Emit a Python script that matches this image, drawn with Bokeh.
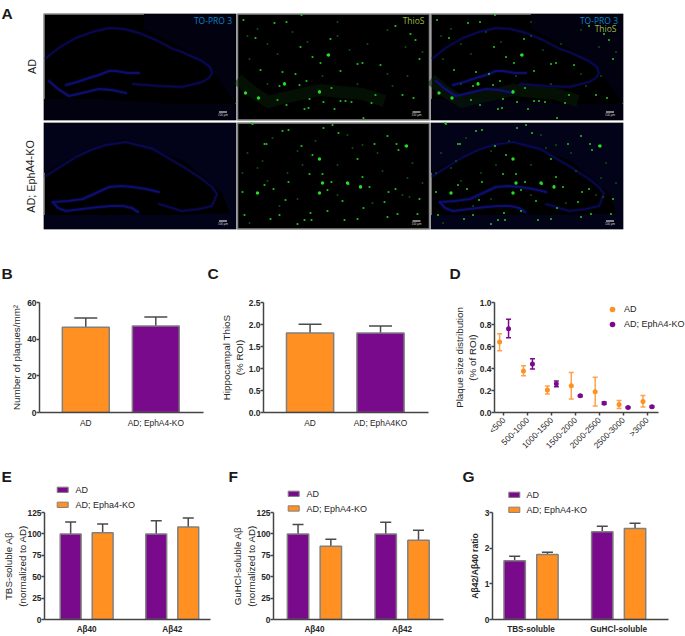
from bokeh.plotting import figure
from bokeh.models import (ColumnDataSource, Range1d, FixedTicker, Whisker, TeeHead, Legend, LegendItem,
                          Column, Row)
from bokeh.core.properties import value
from bokeh.embed import file_html
from bokeh.resources import INLINE

ORANGE = "#FF9021"
PURPLE = "#7A0A8C"
INK = "#262626"
FONT = "Liberation Sans"

# ---------- data ----------
groups_bc = ["AD", "AD; EphA4-KO"]
groups_c = ["AD", "AD; EphA4KO"]
plaques_mean = [46.5, 47.2]
plaques_top = [51.6, 52.1]
thios_mean = [1.806, 1.806]
thios_top = [2.005, 1.966]

size_bins = ["<500", "500-1000", "1000-1500", "1500-2000", "2000-2500", "2500-3000", ">3000"]
dist_ad = [0.64, 0.378, 0.204, 0.244, 0.189, 0.073, 0.10]
dist_ad_hi = [0.716, 0.424, 0.241, 0.363, 0.32, 0.11, 0.155]
dist_ad_lo = [0.561, 0.335, 0.168, 0.122, 0.058, 0.037, 0.049]
dist_ko = [0.762, 0.442, 0.259, 0.152, 0.085, 0.046, 0.052]
dist_ko_hi = [0.848, 0.488, 0.287, 0.16, 0.095, 0.052, 0.058]
dist_ko_lo = [0.68, 0.396, 0.235, 0.145, 0.075, 0.04, 0.046]

ab_species = ["A\u03b240", "A\u03b242"]
tbs_ad, tbs_ad_top = [100, 100], [114, 115.5]
tbs_ko, tbs_ko_top = [101.4, 108.2], [111.7, 118.5]
gu_ad, gu_ad_top = [100, 100], [111, 113.5]
gu_ko, gu_ko_top = [85.6, 92.5], [93.7, 104.4]
fractions = ["TBS-soluble", "GuHCl-soluble"]
ratio_ad, ratio_ad_top = [1.646, 2.46], [1.775, 2.617]
ratio_ko, ratio_ko_top = [1.82, 2.553], [1.885, 2.70]

# panel A: structures (pixels inside one 192 x 106 image)
ad_arc_x = [2, 16, 32, 48, 65, 80, 95, 112, 129, 138, 158, 166, 168, 165, 158, 138, 115, 89]
ad_arc_y = [44, 33, 24, 18, 14, 15, 19, 26, 35, 38, 47, 53, 59, 64, 68, 73, 72, 70]
ad_dgu_x = [22, 33, 45, 55, 65, 72, 84, 95]
ad_dgu_y = [71, 68, 64, 61, 57, 57, 59, 59]
ad_dgl_x = [5, 14, 25, 38, 55, 68, 82]
ad_dgl_y = [67, 75, 82, 79, 75, 76, 79]
ko_arc_x = [2, 16, 32, 47, 62, 82, 109, 138, 158, 168, 173, 168, 155, 138, 115]
ko_arc_y = [53, 44, 34, 27, 22, 19, 26, 43, 56, 64, 71, 83, 86, 88, 81]
ko_dgu_x = [9, 24, 39, 52, 65, 77, 89, 102, 115]
ko_dgu_y = [79, 78, 76, 70, 64, 63, 64, 66, 69]
ko_dgl_x = [9, 14, 22, 38, 55, 68, 79, 88, 94]
ko_dgl_y = [79, 85, 88, 86, 84, 83, 83, 85, 89]
ad_band_x = [0, 15, 31, 42, 82, 125, 147]
ad_band_y = [65, 78, 88, 85, 76, 80, 87]
ad_haze = [([100, 192, 192, 170, 140, 100], [0, 0, 90, 60, 35, 15]),
           ([0, 60, 130, 192, 192, 0], [85, 85, 90, 90, 106, 106])]
ko_haze = [([0, 192, 192, 178, 140, 80, 40, 0], [0, 0, 106, 70, 38, 16, 28, 50]),
           ([0, 120, 192, 192, 0], [92, 92, 90, 106, 106])]
ad_large_x = [8, 21, 47, 82, 91]
ad_large_y = [79, 84, 70, 78, 41]
ko_large_x = [20, 82, 82, 85, 110, 123, 169]
ko_large_y = [70, 36, 70, 60, 60, 64, 23]
ad_bright_x = [6, 37, 49, 64, 158, 173, 18, 93, 178, 63, 90, 83, 75, 120, 125, 143, 182, 23, 45, 58, 103, 47, 69, 62, 42,
               94, 82, 40, 49, 72, 86, 67, 71, 97, 103, 108, 114, 138, 134, 165, 176, 126]
ad_bright_y = [6, 9, 8, 1, 12, 20, 24, 25, 26, 33, 41, 49, 43, 50, 49, 51, 45, 56, 58, 60, 57, 69, 67, 71, 72,
               74, 77, 86, 91, 85, 88, 95, 94, 95, 87, 87, 88, 81, 89, 81, 84, 104]
ad_faint_x = [10, 20, 30, 55, 100, 112, 150, 168, 12, 40, 70, 100, 130, 150, 170, 185, 30, 85, 120, 155]
ad_faint_y = [22, 15, 30, 18, 8, 36, 16, 33, 45, 40, 28, 22, 30, 60, 62, 38, 70, 62, 70, 72]
ko_bright_x = [15, 14, 95, 45, 51, 86, 101, 150, 159, 137, 168, 161, 27, 29, 64, 120, 75, 85, 72, 51, 111, 94, 123,
               132, 125, 90, 36, 5, 27, 48, 73, 90, 42, 33, 7, 67, 74, 147, 151, 158, 182, 180, 160, 126, 105, 107, 150, 120, 60]
ko_bright_y = [1, 0, 2, 8, 7, 5, 10, 13, 21, 21, 23, 27, 21, 21, 23, 36, 32, 51, 51, 59, 61, 59, 63,
               64, 54, 67, 66, 69, 62, 77, 90, 88, 92, 96, 92, 97, 97, 79, 69, 66, 76, 91, 91, 85, 78, 97, 94, 96, 101]
ko_faint_x = [10, 25, 35, 60, 78, 110, 125, 140, 175, 5, 20, 50, 65, 100, 115, 145, 170, 185, 30, 60, 100, 135, 165, 12, 42, 172]
ko_faint_y = [30, 38, 15, 28, 18, 12, 22, 30, 40, 50, 45, 50, 42, 42, 25, 48, 55, 60, 58, 76, 72, 80, 72, 100, 83, 74]

# ---------- helpers ----------
def style_axes(p, yticks, label_standoff):
    for ax in (p.xaxis[0], p.yaxis[0]):
        ax.axis_line_color = "#444444"
        ax.axis_line_width = 1.5
        ax.major_tick_line_color = "#444444"
        ax.major_tick_line_width = 1.5
        ax.major_tick_in = 0
        ax.minor_tick_line_color = None
        ax.major_label_text_font = FONT
        ax.major_label_text_font_size = "8.4px"
        ax.major_label_text_color = INK
        ax.axis_label_text_font = FONT
        ax.axis_label_text_font_size = "9.8px"
        ax.axis_label_text_font_style = "normal"
        ax.axis_label_text_color = INK
    p.yaxis[0].major_label_text_font_style = "bold"
    p.yaxis[0].major_tick_out = 3
    p.yaxis[0].major_label_standoff = 0
    p.yaxis[0].axis_label_standoff = label_standoff
    p.yaxis[0].ticker = FixedTicker(ticks=yticks)
    p.grid.visible = False
    p.outline_line_color = None


def make_fig(w, h, l, r, t, b, xr, yr, see_through=False):
    p = figure(width=w, height=h, x_range=Range1d(*xr), y_range=Range1d(*yr), toolbar_location=None,
               output_backend="svg", min_border_left=l, min_border_right=r, min_border_top=t,
               min_border_bottom=b)
    if see_through:
        p.background_fill_alpha = 0
        p.border_fill_alpha = 0
    return p


def canvas(w, h, y0):
    p = figure(width=w, height=h, x_range=Range1d(0, w), y_range=Range1d(y0 + h, y0), toolbar_location=None,
               output_backend="svg", min_border=0, background_fill_color="white", border_fill_color="white")
    p.axis.visible = False
    p.grid.visible = False
    p.outline_line_color = None
    return p


def letters(p, txt, xs, y):
    p.text(x=xs, y=[y] * len(xs), text=txt, text_font=value(FONT), text_font_size="15.5px",
           text_font_style="bold", text_color="#1a1a1a", text_baseline="alphabetic")


def bars(p, x, tops, caps, color, width, cap):
    src = ColumnDataSource(dict(x=x, top=tops, cap=caps))
    r = p.vbar(x="x", top="top", width=width, bottom=0, source=src, fill_color=color,
               line_color="#808080", line_width=1.5)
    p.add_layout(Whisker(base="x", upper="cap", lower="top", source=src, lower_head=None,
                         upper_head=TeeHead(size=cap, line_color="#4a4a4a", line_width=1.5),
                         line_color="#4a4a4a", line_width=1.5))
    return r


def swatch_key(p, labels, colors, x, ys, tx):
    p.rect(x=[x + 5.5] * 2, y=ys, width=[11] * 2, height=[5.3] * 2, fill_color=colors,
           line_color="#808080", line_width=1)
    p.text(x=[tx] * 2, y=[v + 0.5 for v in ys], text=labels, text_font=value(FONT), text_font_size="9px",
           text_color=INK, text_baseline="middle")


def xlabels(p, labels, bold=False):
    ax = p.xaxis[0]
    ax.ticker = FixedTicker(ticks=list(range(len(labels))))
    ax.major_label_overrides = {i: t for i, t in enumerate(labels)}
    ax.major_tick_out = 0
    ax.major_label_standoff = 5
    if bold:
        ax.major_label_text_font_style = "bold"
        ax.major_label_text_font_size = "8.2px"

# ---------- panel A ----------
pa = canvas(685, 290, 0)
col_x = [43.5, 237, 430.5]
row_y = [13.5, 122.5]
rows = [
    dict(arc=(ad_arc_x, ad_arc_y), dgu=(ad_dgu_x, ad_dgu_y), dgl=(ad_dgl_x, ad_dgl_y), haze=ad_haze,
         bx=ad_bright_x, by=ad_bright_y, fx=ad_faint_x, fy=ad_faint_y, lx=ad_large_x, ly=ad_large_y, hc="#01010f"),
    dict(arc=(ko_arc_x, ko_arc_y), dgu=(ko_dgu_x, ko_dgu_y), dgl=(ko_dgl_x, ko_dgl_y), haze=ko_haze,
         bx=ko_bright_x, by=ko_bright_y, fx=ko_faint_x, fy=ko_faint_y, lx=ko_large_x, ly=ko_large_y, hc="#020218"),
]
for ri, row in enumerate(rows):
    oy = row_y[ri]
    for ci, ox in enumerate(col_x):
        pa.rect(x=[ox + 96], y=[oy + 53], width=[192], height=[106], fill_color="#000000",
                line_color="#8a8a8a", line_width=1.5)
        if ci != 1:
            for hx, hy in row["haze"]:
                pa.patch([ox + v for v in hx], [oy + v for v in hy], fill_color=row["hc"], line_color=None)
        if ci != 0 and ri == 0:
            pa.line([ox + v for v in ad_band_x], [oy + v for v in ad_band_y], line_color="#0a200a",
                    line_width=12, line_alpha=0.5, line_join="round")
        if ci != 1:
            for key in ("arc", "dgu", "dgl"):
                xs, ys = row[key]
                wide = 3.0 if key != "arc" else 2.2
                core = "#10107c" if key != "arc" else "#0b0b62"
                pa.line([ox + v for v in xs], [oy + v for v in ys], line_color="#08084c", line_width=wide + 1.2,
                        line_alpha=0.45, line_join="round", line_cap="round")
                pa.line([ox + v for v in xs], [oy + v for v in ys], line_color=core, line_width=wide - 0.8,
                        line_alpha=0.85, line_join="round", line_cap="round")
        if ci != 0:
            pa.scatter([ox + v for v in row["fx"]], [oy + v for v in row["fy"]], marker="square", size=1.6,
                       fill_color="#0f640f", line_color=None)
            pa.scatter([ox + v for v in row["bx"]], [oy + v for v in row["by"]], marker="circle", size=2.2,
                       fill_color="#1cc41c", line_color=None)
            pa.scatter([ox + v for v in row["lx"]], [oy + v for v in row["ly"]], marker="circle", size=3.4,
                       fill_color="#22e022", line_color=None)
        pa.rect(x=[ox + 179], y=[oy + 98], width=[8], height=[1], fill_color="white", line_color=None)
        pa.text(x=[ox + 179], y=[oy + 101], text=["100 \u00b5m"], text_font=value(FONT), text_font_size="3px",
                text_color="#d0d0d0", text_align="center", text_baseline="middle")
pa.text(x=[231.5, 617.5], y=[20, 20], text=["TO-PRO 3", "TO-PRO 3"], text_font=value("Open Sans"),
        text_font_size="8.5px", text_color="#0a86c8", text_align="right", text_baseline="middle")
pa.text(x=[424, 616], y=[20, 28], text=["ThioS", "ThioS"], text_font=value("Open Sans"),
        text_font_size="8.5px", text_color="#9dbb3c", text_align="right", text_baseline="middle")
pa.text(x=[31, 30], y=[66, 176], text=["AD", "AD; EphA4-KO"], angle=1.5708, text_font=value(FONT),
        text_font_size="10.8px", text_color="#222222", text_align="center", text_baseline="middle")
letters(pa, ["A"], [1], 13)
letters(pa, ["B", "C", "D"], [1, 207, 449], 273)

# ---------- panel B ----------
xr_b = (-0.661, 1.681)
pb = make_fig(205, 170, 39, 2, 12, 48, xr_b, (0, 60))
bars(pb, [0], plaques_mean[:1], plaques_top[:1], ORANGE, 0.67, 23)
bars(pb, [1], plaques_mean[1:], plaques_top[1:], PURPLE, 0.67, 23)
style_axes(pb, [0, 20, 40, 60], 2)
xlabels(pb, groups_bc)
pb.yaxis[0].axis_label = "Number of plaques/mm\u00b2"

# ---------- panel C ----------
pc = make_fig(225, 170, 58, 2, 12, 48, xr_b, (0, 2.5))
bars(pc, [0], thios_mean[:1], thios_top[:1], ORANGE, 0.67, 23)
bars(pc, [1], thios_mean[1:], thios_top[1:], PURPLE, 0.67, 23)
style_axes(pc, [0, 0.5, 1, 1.5, 2, 2.5], 1)
pc.yaxis[0].major_label_overrides = {0: "0.0", 0.5: "0.5", 1: "1.0", 1.5: "1.5", 2: "2.0", 2.5: "2.5"}
xlabels(pc, groups_c)
pc.yaxis[0].axis_label = "Hippocampal ThioS\n(% ROI)"

# ---------- panel D ----------
pd_ = make_fig(255, 170, 64, 0, 12, 48, (-0.393, 7.599), (0, 1.0))
idx = list(range(len(size_bins)))
ad_x = [i - 0.18 for i in idx]
ko_x = [i + 0.195 for i in idx]
sa = ColumnDataSource(dict(x=ad_x, y=dist_ad, hi=dist_ad_hi, lo=dist_ad_lo))
sk = ColumnDataSource(dict(x=ko_x, y=dist_ko, hi=dist_ko_hi, lo=dist_ko_lo))
for src, col in ((sa, "#FFA24D"), (sk, PURPLE)):
    pd_.add_layout(Whisker(base="x", upper="hi", lower="lo", source=src, line_color=col, line_width=1.5,
                           upper_head=TeeHead(size=5, line_color=col, line_width=1.5),
                           lower_head=TeeHead(size=5, line_color=col, line_width=1.5)))
ra = pd_.scatter("x", "y", source=sa, size=5, marker="circle", fill_color=ORANGE, line_color=None)
rk = pd_.scatter("x", "y", source=sk, size=5, marker="circle", fill_color=PURPLE, line_color=None)
style_axes(pd_, [0, 0.2, 0.4, 0.6, 0.8, 1.0], -1)
pd_.yaxis[0].major_label_overrides = {0: "0.0", 0.2: "0.2", 0.4: "0.4", 0.6: "0.6", 0.8: "0.8", 1: "1.0"}
xlabels(pd_, size_bins)
pd_.xaxis[0].bounds = (-0.393, 6.456)
pd_.xaxis[0].major_tick_out = 3
pd_.xaxis[0].major_label_orientation = 0.785
pd_.xaxis[0].major_label_standoff = 3
pd_.yaxis[0].axis_label = "Plaque size distribution\n(% of ROI)"
pd_.add_layout(Legend(items=[LegendItem(label=value("AD"), renderers=[ra]),
                             LegendItem(label=value("AD; EphA4-KO"), renderers=[rk])],
                      location=(111, 81), background_fill_alpha=0, border_line_alpha=0, padding=0, margin=0,
                      spacing=1, glyph_width=14, glyph_height=14, label_standoff=5, label_height=10,
                      label_text_font=FONT, label_text_font_size="9px", label_text_color=INK))

# ---------- letters and keys above E, F, G (drawn behind the see-through row below) ----------
strip = canvas(685, 56, 460)
letters(strip, ["E", "F", "G"], [1, 228, 462], 476)
swatch_key(strip, ["AD", "AD; Epha4-KO"], [PURPLE, ORANGE], 56.7, [489.3, 504.3], 75)
swatch_key(strip, ["AD", "AD; EphA4-KO"], [PURPLE, ORANGE], 287.7, [493.3, 508], 306)
swatch_key(strip, ["AD", "AD; EphA4-KO"], [PURPLE, ORANGE], 508.3, [494.3, 509.3], 526)

# ---------- panel E ----------
pe = make_fig(212, 136, 41, 2, 11, 16, (-0.4926, 1.447), (0, 125), True)
bars(pe, [i - 0.187 for i in range(2)], tbs_ad, tbs_ad_top, PURPLE, 0.244, 11)
bars(pe, [i + 0.187 for i in range(2)], tbs_ko, tbs_ko_top, ORANGE, 0.244, 11)
style_axes(pe, [0, 25, 50, 75, 100, 125], -3)
xlabels(pe, ab_species, True)
pe.yaxis[0].axis_label = "TBS-soluble A\u03b2\n(normalized to AD)"

# ---------- panel F ----------
pf = make_fig(233, 136, 61, 2, 12, 15, (-0.467, 1.472), (0, 125), True)
bars(pf, [i - 0.187 for i in range(2)], gu_ad, gu_ad_top, PURPLE, 0.244, 11)
bars(pf, [i + 0.187 for i in range(2)], gu_ko, gu_ko_top, ORANGE, 0.244, 11)
style_axes(pf, [0, 25, 50, 75, 100, 125], -3)
xlabels(pf, ab_species, True)
pf.yaxis[0].axis_label = "GuHCl-soluble A\u03b2\n(normalized to AD)"

# ---------- panel G ----------
pg = make_fig(240, 136, 47, 17, 11, 16, (-0.44, 1.569), (0, 3), True)
bars(pg, [i - 0.187 for i in range(2)], ratio_ad, ratio_ad_top, PURPLE, 0.244, 11)
bars(pg, [i + 0.187 for i in range(2)], ratio_ko, ratio_ko_top, ORANGE, 0.244, 11)
style_axes(pg, [0, 1, 2, 3], 2)
xlabels(pg, fractions, True)
pg.yaxis[0].axis_label = "A\u03b242/A\u03b240 ratio"
pg.yaxis[0].axis_label_text_font_size = "8.6px"
pg.yaxis[0].axis_label_text_font_style = "bold"

root = Column(children=[pa, Row(children=[pb, pc, pd_], spacing=0), strip,
                        Row(children=[pe, pf, pg], spacing=0, margin=(-16, 0, 0, 0))],
              spacing=0)
open("out.html", "w").write(file_html(root, INLINE))
